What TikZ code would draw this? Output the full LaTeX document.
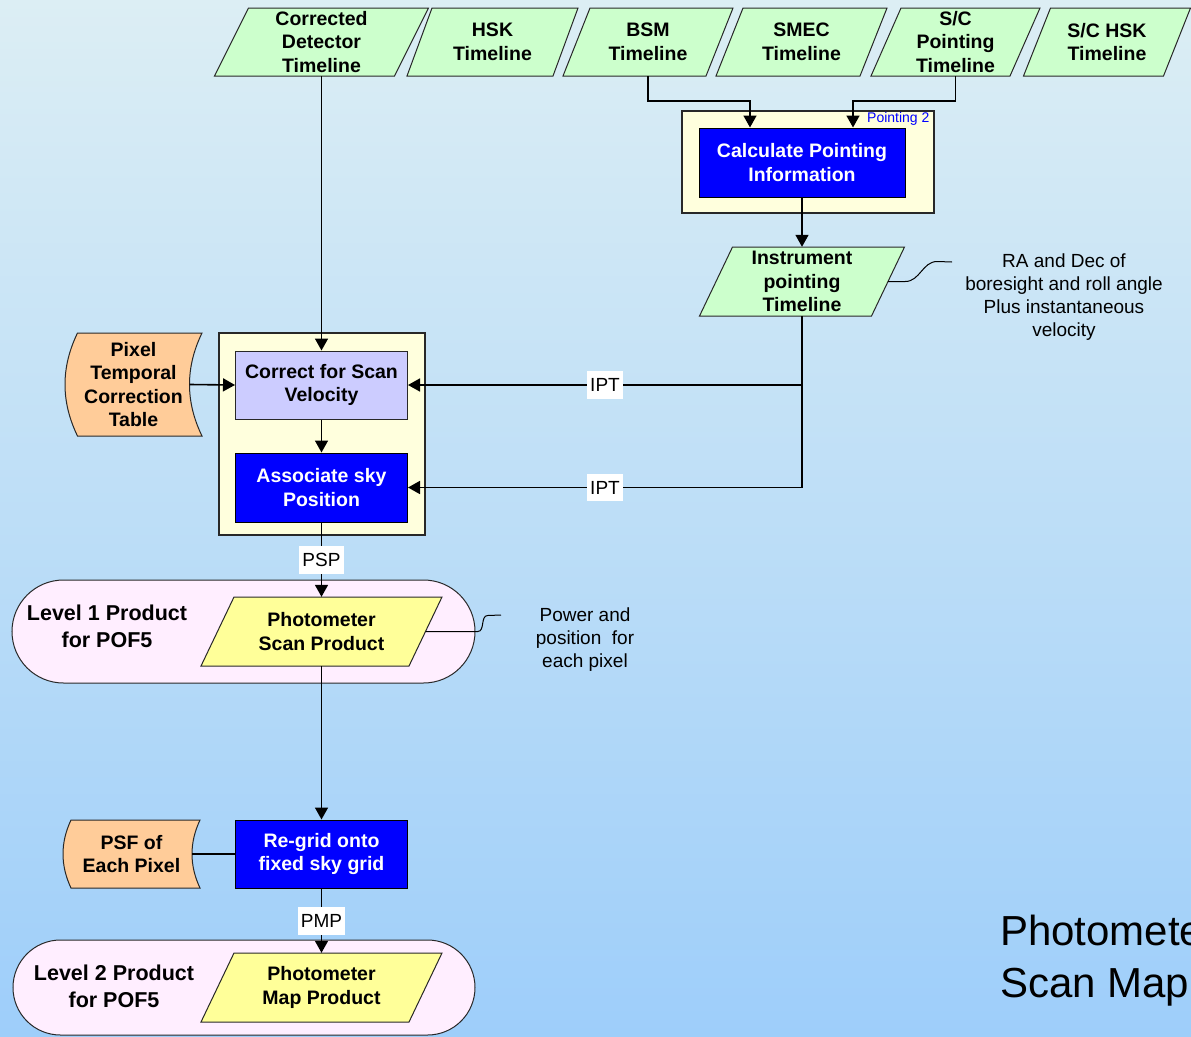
\documentclass[tikz,border=0pt]{standalone}
\usepackage{fontspec}
\setmainfont{Liberation Sans}
\usetikzlibrary{arrows.meta}

\definecolor{bgtop}{RGB}{220,238,244}
\definecolor{bgbot}{RGB}{158,206,250}
\definecolor{datagreen}{RGB}{204,255,204}
\definecolor{storeorange}{RGB}{255,204,153}
\definecolor{procblue}{RGB}{0,0,255}
\definecolor{proclilac}{RGB}{204,204,255}
\definecolor{groupyellow}{RGB}{255,255,221}
\definecolor{pillpink}{RGB}{255,238,255}
\definecolor{prodyellow}{RGB}{255,255,153}
\definecolor{edge}{RGB}{40,40,40}

% slanted data shape: name, cx, cy, width, height, slant, fill, text
\newcommand\slantshape[8]{%
  \path[slant, fill=#7] (#2-#4/2+#6/2,#3-#5/2) -- (#2+#4/2+#6/2,#3-#5/2)
    -- (#2+#4/2-#6/2,#3+#5/2) -- (#2-#4/2-#6/2,#3+#5/2) -- cycle;
  \node[lbl, minimum width=#4pt, minimum height=#5pt, inner sep=0pt] (#1) at (#2,#3) {#8};
}
% stored-data shape: name, cx, cy, width, height, curve depth, text
\newcommand\storeshape[7]{%
  \path[store] (#2-#4/2+#6,#3-#5/2) -- (#2+#4/2,#3-#5/2)
    .. controls (#2+#4/2-4*#6/3,#3-#5/6) and (#2+#4/2-4*#6/3,#3+#5/6) .. (#2+#4/2,#3+#5/2)
    -- (#2-#4/2+#6,#3+#5/2)
    .. controls (#2-#4/2-#6/3,#3+#5/6) and (#2-#4/2-#6/3,#3-#5/6) .. (#2-#4/2+#6,#3-#5/2)
    -- cycle;
  \node[lbl, minimum width={(#4-2*#6)*1pt}, minimum height=#5pt, inner sep=0pt] (#1) at (#2,#3) {#7};
}

\begin{document}
\begin{tikzpicture}[x=1pt,y=-1pt,
  lbl/.style={font=\fontsize{19.5}{23.5}\selectfont\bfseries, align=center},
  note/.style={font=\fontsize{19}{23}\selectfont, align=center, inner sep=0pt},
  slant/.style={draw=edge, line width=1pt},
  store/.style={draw=edge, line width=1pt, fill=storeorange},
  proc/.style={lbl, draw=black, line width=1pt, fill=procblue, text=white, inner sep=0pt},
  lilac/.style={lbl, draw=edge, line width=1pt, fill=proclilac, inner sep=0pt},
  grp/.style={draw=edge, line width=1.3pt, fill=groupyellow, inner sep=0pt},
  pill/.style={draw=edge, line width=1pt, fill=pillpink, inner sep=0pt},
  lvl/.style={font=\fontsize{21.5}{27}\selectfont\bfseries, align=center},
  flow/.style={draw=black, line width=1.6pt, -{Triangle[length=12pt,width=13pt]}},
  link/.style={draw=black, line width=1.6pt},
  tag/.style={fill=white, font=\fontsize{19}{23}\selectfont, inner xsep=3pt, inner ysep=7pt, text height=13.7pt, text depth=0pt},
  remark/.style={draw=black, line width=1pt},
]
% background
\shade[top color=bgtop, bottom color=bgbot] (0,0) rectangle (1191,1036);
\useasboundingbox (0,0) rectangle (1191,1036);

% input timelines
\slantshape{cdt}{321.5}{42}{180}{68}{34}{datagreen}{Corrected\\Detector\\Timeline}
\slantshape{hsk}{492.5}{42}{146}{68}{25}{datagreen}{HSK\\Timeline}
\slantshape{bsm}{648}{42}{143}{68}{27}{datagreen}{BSM\\Timeline}
\slantshape{smec}{801.5}{42}{144}{68}{27}{datagreen}{SMEC\\Timeline}
\slantshape{scp}{955.5}{42}{139}{68}{30}{datagreen}{S/C\\Pointing\\Timeline}
\slantshape{schsk}{1107}{42}{140}{68}{27}{datagreen}{S/C HSK\\Timeline}

% pointing module
\node[grp, minimum width=252pt, minimum height=102pt] (g2) at (808,162) {};
\node[anchor=north east, inner xsep=5pt, inner ysep=1.5pt, text=blue, font=\fontsize{14}{16}\selectfont] (g2lab) at (g2.north east) {Pointing 2};
\node[proc, minimum width=206pt, minimum height=69pt] (cpi) at (802,162.5) {Calculate Pointing\\Information};

\slantshape{ipt}{802}{281.5}{172}{69}{33}{datagreen}{Instrument\\pointing\\Timeline}
\node[note] (ranote) at (1064,297) {RA and Dec of\\boresight and roll angle\\Plus instantaneous\\velocity};
\coordinate (raend) at (952,262);

% scan processing module
\node[grp, minimum width=206pt, minimum height=202pt] (g1) at (322,434) {};
\node[lilac, minimum width=172pt, minimum height=68pt] (csv) at (321.5,385) {Correct for Scan\\Velocity};
\node[proc, minimum width=172pt, minimum height=69pt] (asp) at (321.5,487.5) {Associate sky\\Position};
\storeshape{ptct}{133.5}{384.5}{137}{103}{12.5}{Pixel\\Temporal\\Correction\\Table}

% level 1 product
\node[pill, minimum width=463pt, minimum height=103pt, rounded corners=51.5pt] (lv1) at (243.5,631.5) {};
\node[lvl] (lv1t) at (107,626) {Level 1 Product\\for POF5};
\slantshape{scan}{321.5}{631.5}{208}{69}{33}{prodyellow}{Photometer\\Scan Product}
\node[note] (pwnote) at (585,640) {Power and\\position\ \ for\\each pixel};
\coordinate (pwend) at (501,615);

% map making
\node[proc, minimum width=172pt, minimum height=68pt] (rg) at (321.5,854) {Re-grid onto\\fixed sky grid};
\storeshape{psf}{131.5}{854}{137}{68}{8}{PSF of\\Each Pixel}

% level 2 product
\node[pill, minimum width=462pt, minimum height=95pt, rounded corners=47.5pt] (lv2) at (244,987.5) {};
\node[lvl] (lv2t) at (114,986) {Level 2 Product\\for POF5};
\slantshape{map}{321.5}{987.5}{208}{69}{33}{prodyellow}{Photometer\\Map Product}

% connectors
\draw[flow] (cdt.south) -- (csv.north);
\draw[flow] (bsm.south) -- ++(0,25) -| ([xshift=-52pt]cpi.north);
\draw[flow] (scp.south) -- ++(0,25) -| ([xshift=51pt]cpi.north);
\draw[flow] (cpi.south) -- (ipt.north);
\draw[flow] (ipt.south) |- (csv.east) node[tag, pos=0.75] {IPT};
\draw[flow] (ipt.south) |- (asp.east) node[tag, pos=0.75] {IPT};
\draw[flow] (ptct.east) -- (csv.west);
\draw[flow] (csv.south) -- (asp.north);
\draw[flow] (asp.south) -- (scan.north) node[tag, midway] {PSP};
\draw[flow] (scan.south) -- (rg.north);
\draw[link] (psf.east) -- (rg.west);
\draw[flow] (rg.south) -- (map.north) node[tag, midway] {PMP};

% annotations
\draw[remark] (ipt.east) -- ++(17,0) to[out=0,in=180] ++(32,-20) -- (raend);
\draw[remark] (scan.east) -- ++(52,0) to[out=0,in=180] ++(10,-16) -- (pwend);

% page title, running off the right edge
\begin{scope}
  \clip (0,0) rectangle (1191,1036);
  \node[anchor=west, inner sep=0pt, align=left, font=\fontsize{42}{52}\selectfont] (ptitle) at (1000,961) {Photometer\\Scan Map};
\end{scope}
\end{tikzpicture}
\end{document}
